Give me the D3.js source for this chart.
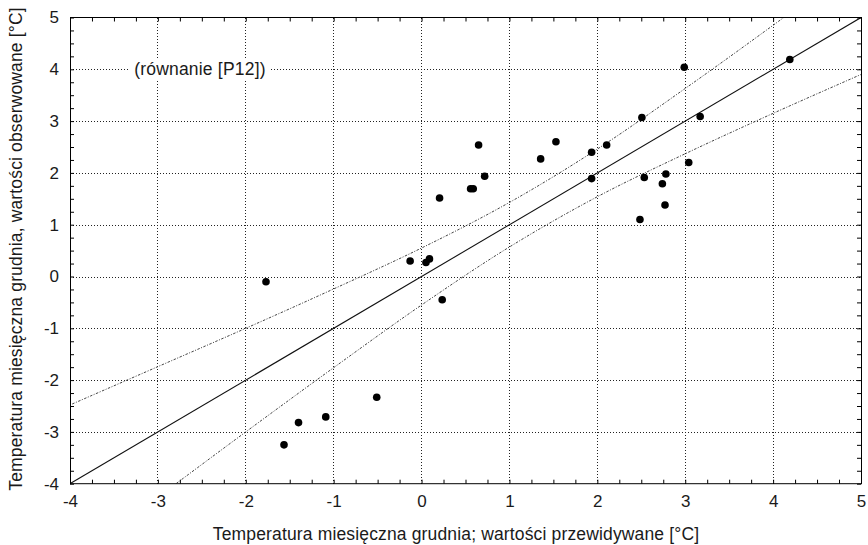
<!DOCTYPE html>
<html><head><meta charset="utf-8">
<script src="https://cdn.jsdelivr.net/npm/d3@7"></script>
<style>body{margin:0;background:#fff}svg{display:block}text{font-family:"Liberation Sans",Arial,sans-serif;fill:#1a1a1a}</style>
</head><body>
<svg id="c" width="868" height="545"></svg>
<script>
// Data
const predicted = [-1.77,-1.565,-1.40,-1.09,-0.51,-0.13,0.05,0.09,0.235,0.205,0.558,0.588,0.649,0.718,1.355,1.529,1.935,1.935,2.106,2.485,2.507,2.534,2.74,2.77,2.78,2.989,3.04,3.17,4.19];
const observed  = [-0.10,-3.25,-2.82,-2.71,-2.33,0.30,0.27,0.34,-0.45,1.515,1.695,1.695,2.54,1.934,2.27,2.60,2.40,1.89,2.54,1.10,3.07,1.91,1.79,1.38,1.98,4.04,2.20,3.09,4.19];
const fitX = [-4, 5];
const fitY = [-4, 5];
const bandX     = [-4,-3,-2,-1,0,1,2,3,4,5];
const bandUpper = [-2.48,-1.74,-1.00,-0.24,0.55,1.43,2.46,3.63,4.85,6.10];
const bandLower = [-5.52,-4.26,-3.00,-1.76,-0.55,0.57,1.54,2.37,3.15,3.90];
const xTicks = [-4,-3,-2,-1,0,1,2,3,4,5];
const yTicks = [-4,-3,-2,-1,0,1,2,3,4,5];
const xTitle = "Temperatura miesięczna grudnia; wartości przewidywane [°C]";
const yTitle = "Temperatura miesięczna grudnia, wartości obserwowane [°C]";
const note = "(równanie [P12])";

const svg = d3.select("#c");
const L=70, R=861, T=17.5, B=483.7;
const x = d3.scaleLinear([-4,5],[L,R]);
const y = d3.scaleLinear([-4,5],[B,T]);

svg.append("defs").append("clipPath").attr("id","clip")
  .append("rect").attr("x",L).attr("y",T).attr("width",R-L).attr("height",B-T);

// grid
const g = svg.append("g");
g.selectAll("line.vx").data(xTicks.filter(d=>d>-4&&d<5)).join("line")
  .attr("x1",d=>x(d)).attr("x2",d=>x(d)).attr("y1",T).attr("y2",B)
  .attr("stroke","#222").attr("stroke-width",1).attr("stroke-dasharray","1,2").attr("shape-rendering","crispEdges");
g.selectAll("line.hy").data(yTicks.filter(d=>d>-4&&d<5)).join("line")
  .attr("y1",d=>Math.round(y(d))+0.5).attr("y2",d=>Math.round(y(d))+0.5).attr("x1",L).attr("x2",R)
  .attr("stroke","#222").attr("stroke-width",1).attr("stroke-dasharray","1,2");

// annotation with white background
const ann = svg.append("g");
const annText = ann.append("text").attr("x",x(-3.27)).attr("y",y(4)).attr("dy","0.35em")
  .attr("font-size",17.5).attr("letter-spacing","0.2px").text(note);
const bb = annText.node().getBBox();
ann.insert("rect","text").attr("x",bb.x-5).attr("y",bb.y).attr("width",bb.width+9).attr("height",bb.height).attr("fill","#fff");

// lines
const plot = svg.append("g").attr("clip-path","url(#clip)");
const line = d3.line().x(d=>x(d[0])).y(d=>y(d[1]));
const lineC = d3.line().x(d=>x(d[0])).y(d=>y(d[1])).curve(d3.curveCatmullRom);
plot.append("path").attr("d",lineC(bandX.map((v,i)=>[v,bandUpper[i]])))
  .attr("fill","none").attr("stroke","#444").attr("stroke-width",1).attr("stroke-dasharray","1,1.5,2.5,1.5");
plot.append("path").attr("d",lineC(bandX.map((v,i)=>[v,bandLower[i]])))
  .attr("fill","none").attr("stroke","#444").attr("stroke-width",1).attr("stroke-dasharray","1,1.5,2.5,1.5");
plot.append("path").attr("d",line(fitX.map((v,i)=>[v,fitY[i]])))
  .attr("fill","none").attr("stroke","#111").attr("stroke-width",1.1);

// points
svg.append("g").selectAll("circle").data(predicted.map((v,i)=>[v,observed[i]])).join("circle")
  .attr("cx",d=>x(d[0])).attr("cy",d=>y(d[1])).attr("r",3.8).attr("fill","#000");

// frame
svg.append("rect").attr("x",L+0.5).attr("y",T).attr("width",R-L).attr("height",B-T)
  .attr("fill","none").attr("stroke","#000").attr("stroke-width",1);

// minor ticks inward on all sides
const minor = d3.range(-4,5.001,0.25);
const noLab = ()=>"";
function clean(sel){ sel.select(".domain").remove(); sel.selectAll("line").attr("stroke","#000"); }
svg.append("g").attr("transform",`translate(0,${B})`).call(d3.axisBottom(x).tickValues(minor).tickSize(-4).tickFormat(noLab)).call(clean);
svg.append("g").attr("transform",`translate(0,${T})`).call(d3.axisTop(x).tickValues(minor).tickSize(-4).tickFormat(noLab)).call(clean);
svg.append("g").attr("transform",`translate(${L},0)`).call(d3.axisLeft(y).tickValues(minor).tickSize(-4).tickFormat(noLab)).call(clean);
svg.append("g").attr("transform",`translate(${R},0)`).call(d3.axisRight(y).tickValues(minor).tickSize(-4).tickFormat(noLab)).call(clean);

// labelled axes
const ax = svg.append("g").attr("transform",`translate(0,${B})`)
  .call(d3.axisBottom(x).tickValues(xTicks).tickSize(0).tickPadding(11).tickFormat(d=>String(d)));
ax.select(".domain").remove();
ax.selectAll("text").attr("font-size",17).attr("font-family","Liberation Sans, Arial, sans-serif").attr("fill","#1a1a1a");
const ay = svg.append("g").attr("transform",`translate(${L},0)`)
  .call(d3.axisLeft(y).tickValues(yTicks).tickSize(0).tickPadding(11).tickFormat(d=>String(d)));
ay.select(".domain").remove();
ay.selectAll("text").attr("font-size",17).attr("font-family","Liberation Sans, Arial, sans-serif").attr("fill","#1a1a1a");

// titles
svg.append("text").attr("x",456).attr("y",540).attr("text-anchor","middle").attr("font-size",17.5).attr("letter-spacing","0.15px").text(xTitle);
svg.append("text").attr("transform",`translate(22,249) rotate(-90)`).attr("text-anchor","middle").attr("font-size",17.5).attr("letter-spacing","0.15px").text(yTitle);
</script>
</body></html>
